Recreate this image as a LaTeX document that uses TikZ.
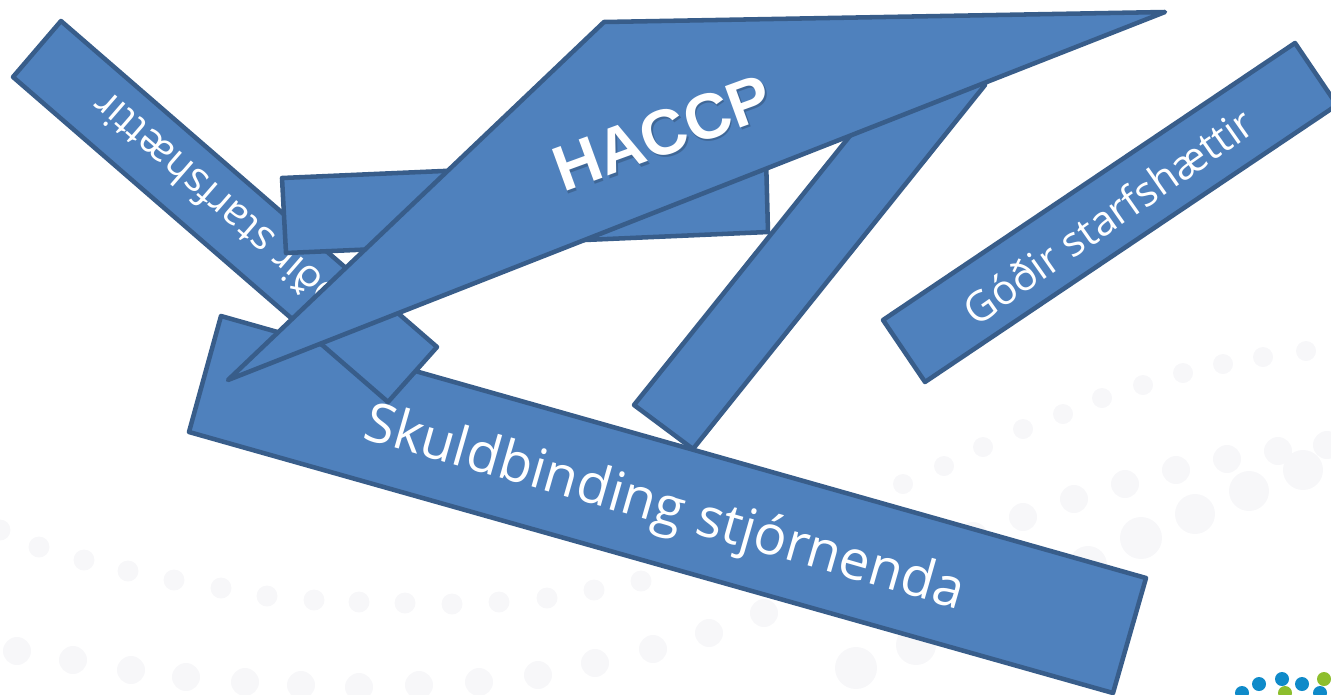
\documentclass[tikz,border=0pt]{standalone}
\usepackage{fontspec}
\setmainfont{Open Sans}
\newfontfamily\haccpfont{Liberation Sans}
\tikzset{
  bar/.style={fill=barfill,draw=barline,line width=3.4pt,line join=round},
  dotA/.style={fill=dotgrey,draw=none},
  label/.style={text=white,inner sep=0pt,anchor=center},
}
\definecolor{barfill}{HTML}{4F81BD}
\definecolor{barline}{HTML}{385D8A}
\definecolor{dotgrey}{HTML}{F7F7F9}
\definecolor{logoblue}{HTML}{0F8AC9}
\definecolor{logogreen}{HTML}{8DBE2D}
\begin{document}
\begin{tikzpicture}[x=0.75pt,y=-0.75pt]
\useasboundingbox (0,0) rectangle (1331,694);
\clip (0,0) rectangle (1331,694);
% faint background dots
\foreach \x/\y in {903/484,944/466,983/447,1023/429,1063/414,1102/398,1143/385,1183/373,1223/364,1263/357,1306/351}
  \fill[dotA] (\x,\y) circle[radius=10];
\foreach \x/\y in {0/530,39/547,84/560,128/571,174/580,221/588,267/596,314/600,359/602,405/603,452/604,499/602,547/598,594/590,641/581}
  \fill[dotA] (\x,\y) circle[radius=10.5];
\foreach \x/\y in {1023/517,1074/499,1125/484,1176/470,1227/459,1278/451,1327/445}
  \fill[dotA] (\x,\y) circle[radius=14];
\foreach \x/\y in {17/651,73/660,131/670,186/677,245/682,301/685,359/687,419/685,479/682,538/675,595/663,653/649,709/633,764/613}
  \fill[dotA] (\x,\y) circle[radius=14];
\foreach \x/\y/\r in {856/668/21,916/645/20,973/537/15,1088/565/19,1141/538/21,1195/514/20,1249/491/20,1303/470/20}
  \fill[dotA] (\x,\y) circle[radius=\r];
% logo dots
\foreach \x/\y in {1259/684,1282/679,1302/684,1242/693,1320/693}
  \fill[logoblue] (\x,\y) circle[radius=7];
\foreach \x/\y in {1324/679,1285/693}
  \fill[logogreen] (\x,\y) circle[radius=7];
% bars
\coordinate (sa) at (221,316); \coordinate (sb) at (1146,578);
\coordinate (sc) at (1113,693); \coordinate (sd) at (189,432);
\draw[bar] (sa) -- (sb) -- (sc) -- (sd) -- cycle;
\node[label,rotate=-16,font=\fontsize{41pt}{44pt}\selectfont] (skuld) at (664,510) {Skuldbinding stjórnenda};

\coordinate (la) at (61,21); \coordinate (lb) at (437,347);
\coordinate (lc) at (388,402); \coordinate (ld) at (13,77);
\draw[bar] (la) -- (lb) -- (lc) -- (ld) -- cycle;
\node[label,rotate=139,font=\fontsize{31pt}{33pt}\selectfont] (gleft) at (227,213) {Góðir starfshættir};

\coordinate (da) at (926,41); \coordinate (db) at (985,85);
\coordinate (dc) at (693,449); \coordinate (dd) at (634,405);
\draw[bar] (da) -- (db) -- (dc) -- (dd) -- cycle;

\coordinate (ma) at (282,178); \coordinate (mb) at (766,157);
\coordinate (mc) at (768,232); \coordinate (md) at (286,253);
\draw[bar] (ma) -- (mb) -- (mc) -- (md) -- cycle;

\coordinate (ha) at (604,22); \coordinate (hb) at (1165,12); \coordinate (hc) at (228,380);
\draw[bar] (ha) -- (hb) -- (hc) -- cycle;
\node[label,rotate=20,text=black,opacity=0.2,font=\haccpfont\bfseries\fontsize{48pt}{50pt}\selectfont] (hshadow) at (664,135.5) {HACCP};
\node[label,rotate=20,font=\haccpfont\bfseries\fontsize{48pt}{50pt}\selectfont] (haccp) at (662.5,133) {HACCP};

\coordinate (ra) at (1295,43); \coordinate (rb) at (1337,105);
\coordinate (rc) at (925,382); \coordinate (rd) at (883,320);
\draw[bar] (ra) -- (rb) -- (rc) -- (rd) -- cycle;
\node[label,rotate=35,font=\fontsize{31pt}{33pt}\selectfont] (gright) at (1108,216) {Góðir starfshættir};
\end{tikzpicture}
\end{document}
